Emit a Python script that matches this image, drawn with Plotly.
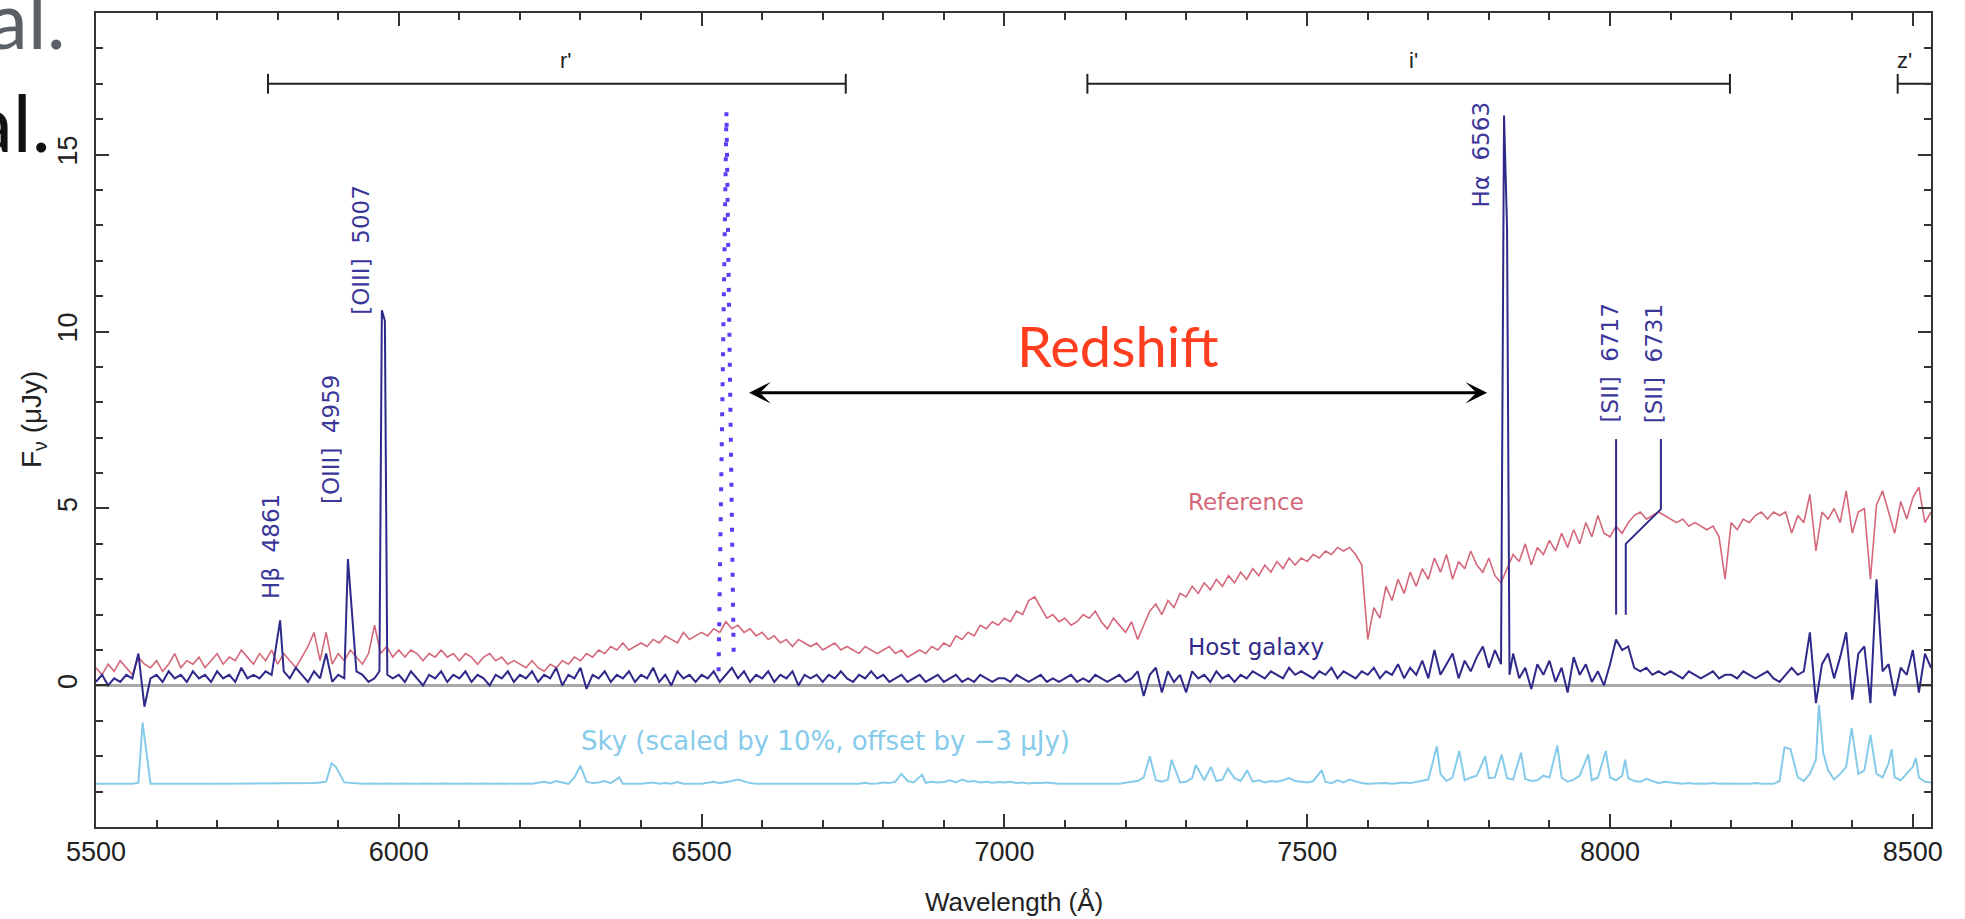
import plotly.graph_objects as go

# ---------------- data ----------------
wave_start, wave_step = 5500, 10

reference_flux = [
    0.5, 0.3, 0.6, 0.4, 0.7, 0.5, 0.3, 0.8, 0.6, 0.5,
    0.7, 0.4, 0.6, 0.9, 0.5, 0.7, 0.6, 0.8, 0.5, 0.7,
    0.9, 0.6, 0.8, 0.7, 1.0, 0.8, 0.6, 0.9, 0.7, 1.0,
    0.6, 0.9, 0.7, 0.5, 0.8, 1.1, 1.5, 0.7, 1.5, 0.6,
    0.9, 0.7, 1.0, 0.8, 0.6, 0.9, 1.7, 0.9, 1.1, 0.8,
    1.0, 0.8, 1.0, 0.9, 0.7, 0.9, 0.8, 1.0, 0.8, 0.9,
    0.7, 0.9, 0.8, 0.6, 0.8, 0.9, 0.7, 0.8, 0.6, 0.7,
    0.6, 0.5, 0.7, 0.5, 0.4, 0.6, 0.5, 0.7, 0.6, 0.8,
    0.7, 0.9, 0.8, 1.0, 0.9, 1.1, 1.0, 1.2, 1.0, 1.1,
    1.2, 1.1, 1.3, 1.2, 1.4, 1.3, 1.2, 1.5, 1.3, 1.4,
    1.5, 1.4, 1.6, 1.5, 1.8, 1.6, 1.7, 1.5, 1.6, 1.4,
    1.5, 1.3, 1.4, 1.2, 1.3, 1.1, 1.3, 1.2, 1.1, 1.2,
    1.0, 1.1, 1.2, 1.0, 1.1, 1.0, 0.9, 1.1, 1.0, 0.9,
    1.0, 1.1, 0.9, 1.0, 0.8, 0.9, 1.0, 0.9, 1.1, 1.0,
    1.2, 1.1, 1.4, 1.3, 1.5, 1.4, 1.7, 1.6, 1.8, 1.7,
    1.9, 1.8, 2.1, 2.0, 2.4, 2.5, 2.2, 1.9, 2.0, 1.8,
    1.9, 1.7, 1.8, 2.0, 1.9, 2.1, 1.8, 1.6, 1.9, 1.7,
    1.5, 1.8, 1.3, 1.7, 2.1, 2.3, 2.0, 2.4, 2.2, 2.6,
    2.5, 2.8, 2.6, 2.9, 2.7, 3.0, 2.8, 3.1, 2.9, 3.2,
    3.0, 3.3, 3.1, 3.4, 3.2, 3.5, 3.3, 3.6, 3.4, 3.6,
    3.5, 3.7, 3.6, 3.8, 3.7, 3.9, 3.8, 3.9, 3.7, 3.4,
    1.3, 2.2, 1.9, 2.8, 2.4, 3.0, 2.6, 3.2, 2.8, 3.3,
    3.0, 3.6, 3.2, 3.7, 3.0, 3.5, 3.3, 3.8, 3.4, 3.2,
    3.6, 3.1, 2.9, 3.3, 3.7, 3.5, 4.0, 3.4, 3.9, 3.7,
    4.1, 3.8, 4.3, 3.9, 4.4, 4.0, 4.6, 4.2, 4.8, 4.3,
    4.2, 4.5, 4.3, 4.6, 4.8, 4.9, 4.7, 4.8, 4.9, 4.8,
    4.7, 4.6, 4.7, 4.5, 4.6, 4.5, 4.4, 4.5, 4.2, 3.0,
    4.6, 4.4, 4.7, 4.6, 4.8, 4.9, 4.7, 4.9, 4.8, 4.9,
    4.3, 4.8, 4.6, 5.4, 3.8, 4.9, 4.7, 5.0, 4.6, 5.5,
    4.3, 4.9, 5.0, 3.0, 5.1, 5.5, 4.9, 4.3, 5.2, 4.7,
    5.3, 5.6, 4.6, 4.9,
]

host_flux = [
    0.1, 0.3, 0.0, 0.2, 0.1, 0.3, 0.2, 0.9, -0.6, 0.2,
    0.3, 0.1, 0.4, 0.2, 0.3, 0.1, 0.4, 0.2, 0.3, 0.1,
    0.4, 0.2, 0.3, 0.1, 0.5, 0.2, 0.3, 0.2, 0.4, 0.3,
    0.3, 0.4, 0.2, 0.5, 0.3, 0.1, 0.4, 0.2, 0.9, 0.1,
    0.3, 0.2, 0.2, 0.4, 0.3, 0.1, 0.2, 0.4, 0.3, 0.2,
    0.3, 0.1, 0.4, 0.2, 0.0, 0.3, 0.2, 0.4, 0.1, 0.3,
    0.2, 0.4, 0.1, 0.3, 0.2, 0.0, 0.3, 0.2, 0.4, 0.1,
    0.3, 0.2, 0.4, 0.1, 0.3, 0.2, 0.5, 0.0, 0.3, 0.2,
    0.5, -0.1, 0.3, 0.2, 0.4, 0.1, 0.3, 0.2, 0.4, 0.1,
    0.3, 0.2, 0.5, 0.1, 0.3, 0.0, 0.4, 0.2, 0.3, 0.1,
    0.3, 0.2, 0.4, 0.1, 0.3, 0.5, 0.2, 0.4, 0.1, 0.3,
    0.2, 0.4, 0.1, 0.3, 0.2, 0.4, 0.0, 0.3, 0.2, 0.3,
    0.1, 0.3, 0.2, 0.4, 0.2, 0.1, 0.3, 0.2, 0.4, 0.2,
    0.3, 0.1, 0.2, 0.3, 0.1, 0.2, 0.3, 0.1, 0.2, 0.3,
    0.1, 0.2, 0.3, 0.1, 0.2, 0.1, 0.3, 0.2, 0.1, 0.2,
    0.2, 0.1, 0.3, 0.2, 0.1, 0.2, 0.3, 0.1, 0.2, 0.1,
    0.2, 0.3, 0.1, 0.2, 0.1, 0.3, 0.2, 0.1, 0.2, 0.3,
    0.1, 0.2, 0.4, -0.3, 0.3, 0.5, -0.2, 0.4, 0.1, 0.3,
    -0.2, 0.4, 0.2, 0.3, 0.1, 0.4, 0.2, 0.3, 0.1, 0.3,
    0.2, 0.4, 0.3, 0.2, 0.4, 0.3, 0.2, 0.5, 0.3, 0.4,
    0.3, 0.2, 0.4, 0.3, 0.5, 0.2, 0.4, 0.3, 0.2, 0.4,
    0.3, 0.5, 0.2, 0.4, 0.3, 0.6, 0.2, 0.5, 0.3, 0.7,
    0.2, 1.0, 0.3, 0.6, 0.9, 0.2, 0.7, 0.4, 0.8, 1.1,
    0.5, 1.0, 0.6, 0.5, 0.9, 0.2, 0.5, -0.1, 0.6, 0.3,
    0.7, 0.1, 0.5, -0.2, 0.8, 0.3, 0.6, 0.1, 0.4, 0.0,
    0.6, 1.3, 1.0, 1.1, 0.5, 0.4, 0.5, 0.3, 0.4, 0.3,
    0.4, 0.3, 0.2, 0.4, 0.3, 0.2, 0.3, 0.4, 0.2, 0.3,
    0.3, 0.2, 0.4, 0.3, 0.2, 0.3, 0.4, 0.2, 0.1, 0.3,
    0.5, 0.3, 0.4, 1.5, -0.5, 0.6, 0.9, 0.2, 0.8, 1.5,
    -0.4, 0.9, 1.1, -0.5, 3.0, 0.4, 0.6, -0.3, 0.5, 0.3,
    1.0, -0.2, 0.9, 0.5,
]

sky_flux = [
    -2.78, -2.77, -2.78, -2.78, -2.77, -2.78, -2.78, -2.75, -2.76, -2.78,
    -2.78, -2.77, -2.78, -2.78, -2.77, -2.78, -2.78, -2.77, -2.78, -2.78,
    -2.78, -2.77, -2.78, -2.78, -2.78, -2.77, -2.78, -2.78, -2.77, -2.78,
    -2.78, -2.78, -2.77, -2.78, -2.78, -2.77, -2.76, -2.74, -2.72, -2.45,
    -2.60, -2.74, -2.76, -2.77, -2.78, -2.77, -2.78, -2.78, -2.77, -2.78,
    -2.78, -2.77, -2.78, -2.78, -2.77, -2.78, -2.78, -2.77, -2.78, -2.78,
    -2.78, -2.77, -2.78, -2.78, -2.77, -2.78, -2.78, -2.77, -2.78, -2.78,
    -2.78, -2.77, -2.78, -2.75, -2.72, -2.76, -2.70, -2.74, -2.78, -2.60,
    -2.50, -2.72, -2.76, -2.74, -2.70, -2.76, -2.75, -2.78, -2.77, -2.78,
    -2.78, -2.77, -2.74, -2.78, -2.76, -2.78, -2.73, -2.78, -2.77, -2.78,
    -2.78, -2.76, -2.72, -2.76, -2.74, -2.70, -2.66, -2.72, -2.76, -2.78,
    -2.78, -2.77, -2.78, -2.78, -2.77, -2.78, -2.76, -2.78, -2.77, -2.78,
    -2.78, -2.77, -2.78, -2.76, -2.78, -2.77, -2.78, -2.75, -2.78, -2.77,
    -2.74, -2.76, -2.72, -2.60, -2.70, -2.74, -2.60, -2.75, -2.72, -2.74,
    -2.73, -2.68, -2.74, -2.66, -2.72, -2.70, -2.74, -2.72, -2.75, -2.73,
    -2.74, -2.72, -2.76, -2.74, -2.77, -2.75, -2.76, -2.74, -2.77, -2.78,
    -2.78, -2.77, -2.78, -2.78, -2.77, -2.78, -2.78, -2.77, -2.78, -2.78,
    -2.74, -2.72, -2.70, -2.60, -2.50, -2.68, -2.72, -2.66, -2.70, -2.74,
    -2.72, -2.62, -2.70, -2.68, -2.60, -2.70, -2.66, -2.72, -2.62, -2.70,
    -2.66, -2.72, -2.68, -2.74, -2.70, -2.72, -2.68, -2.62, -2.70, -2.72,
    -2.74, -2.70, -2.64, -2.72, -2.76, -2.68, -2.74, -2.66, -2.72, -2.76,
    -2.78, -2.77, -2.78, -2.76, -2.78, -2.77, -2.74, -2.76, -2.72, -2.70,
    -2.66, -2.50, -2.50, -2.70, -2.60, -2.40, -2.68, -2.60, -2.55, -2.50,
    -2.62, -2.60, -2.45, -2.62, -2.66, -2.50, -2.64, -2.70, -2.68, -2.55,
    -2.60, -2.40, -2.60, -2.72, -2.66, -2.55, -2.50, -2.68, -2.60, -2.45,
    -2.60, -2.68, -2.55, -2.62, -2.70, -2.72, -2.64, -2.70, -2.76, -2.72,
    -2.74, -2.76, -2.78, -2.76, -2.78, -2.77, -2.78, -2.76, -2.78, -2.77,
    -2.78, -2.77, -2.78, -2.78, -2.76, -2.78, -2.77, -2.78, -2.70, -2.40,
    -2.20, -2.60, -2.70, -2.50, -2.10, -1.60, -2.40, -2.66, -2.50, -2.30,
    -1.80, -2.50, -2.40, -1.90, -2.50, -2.60, -2.20, -2.60, -2.68, -2.50,
    -2.30, -2.60, -2.72, -2.74,
]

# emission-line points of the host spectrum (wavelength, flux)
host_line_wave = [5804, 5916, 5968, 5972, 5977, 5981, 7825, 7830, 7834]
host_line_flux = [1.84, 3.57, 0.4, 10.6, 10.3, 0.3, 16.1, 12.9, 0.3]

# night-sky emission lines (wavelength, scaled flux)
sky_line_wave = [5577, 5889, 5896, 6300, 6364, 6830, 6864, 7240, 7276, 7316, 7341,
                 7369, 7401, 7524, 7714, 7751, 7794, 7821, 7853, 7913, 7964, 7993,
                 8025, 8288, 8298, 8345, 8352, 8399, 8430, 8465, 8505]
sky_line_flux = [-1.05, -2.2, -2.3, -2.27, -2.6, -2.5, -2.52, -2.0, -2.1, -2.25, -2.3,
                 -2.35, -2.4, -2.4, -1.72, -1.85, -2.0, -1.95, -1.9, -1.7, -1.95, -1.85,
                 -2.1, -1.75, -1.8, -0.55, -1.9, -1.2, -1.4, -1.8, -2.05]

# rest-frame H-alpha profile (dotted)
rest_ha_wave = [6528, 6541, 6553]
rest_ha_flux = [0.4, 16.2, 0.8]

# redshift arrow (from, to) at flux level
arrow_wave = [6576, 7797]
arrow_flux = 8.27

# filters
filter_names = ["r'", "i'", "z'"]
filter_lo = [5784, 7137, 8475]
filter_hi = [6738, 8198, 8700]
filter_label_x = [6276, 7676, 8486]
filter_bar_y = 17.0
filter_label_y = 17.65

# line identifications
line_labels = ["H\u03b2  4861", "[OIII]  4959", "[OIII]  5007", "H\u03b1  6563",
               "[SII]  6717", "[SII]  6731"]
line_label_x = [5790, 5889, 5937, 7787, 8000, 8074]
line_label_y = [3.93, 6.95, 12.3, 15.0, 9.1, 9.1]

# leader lines for [SII]
sii_6717_wave = [8010, 8010]
sii_6717_flux = [6.96, 2.0]
sii_6731_wave = [8084, 8084, 8026, 8026]
sii_6731_flux = [6.96, 4.98, 4.0, 2.0]

x_range = [5500, 8530]
y_range = [-4, 19]

# ---------------- helpers ----------------
def merge(grid_vals, extra_w, extra_f, gap=5):
    grid_w = [wave_start + wave_step * i for i in range(len(grid_vals))]
    pts = [(w, f) for w, f in zip(grid_w, grid_vals)
           if all(abs(w - e) >= gap for e in extra_w)]
    pts += list(zip(extra_w, extra_f))
    pts.sort()
    return [p[0] for p in pts], [p[1] for p in pts]

ref_w = [wave_start + wave_step * i for i in range(len(reference_flux))]
host_w, host_f = merge(host_flux, host_line_wave, host_line_flux)
sky_w, sky_f = merge(sky_flux, sky_line_wave, sky_line_flux)

HOST = "#2f2a8a"
LABEL = "#3b3699"
REF = "#d4687a"
SKY = "#86cbea"
DOT = "#5a3cf5"
AXC = "#333333"

fig = go.Figure()
fig.add_trace(go.Scatter(x=sky_w, y=sky_f, mode="lines", line=dict(color=SKY, width=2)))
fig.add_trace(go.Scatter(x=ref_w, y=reference_flux, mode="lines", line=dict(color=REF, width=1.6)))
fig.add_trace(go.Scatter(x=host_w, y=host_f, mode="lines", line=dict(color=HOST, width=2)))
fig.add_trace(go.Scatter(x=rest_ha_wave, y=rest_ha_flux, mode="lines",
                         line=dict(color=DOT, width=4, dash="4px,11px")))
fig.add_trace(go.Scatter(x=sii_6717_wave, y=sii_6717_flux, mode="lines", line=dict(color=HOST, width=2)))
fig.add_trace(go.Scatter(x=sii_6731_wave, y=sii_6731_flux, mode="lines", line=dict(color=HOST, width=2)))

# filter bars with end caps
for lo, hi in zip(filter_lo, filter_hi):
    fig.add_trace(go.Scatter(x=[lo, hi], y=[filter_bar_y, filter_bar_y], mode="lines",
                             line=dict(color="#222222", width=2)))
    for e in (lo, hi):
        fig.add_trace(go.Scatter(x=[e, e], y=[filter_bar_y - 0.28, filter_bar_y + 0.28],
                                 mode="lines", line=dict(color="#222222", width=2)))

annotations = []
for name, lx in zip(filter_names, filter_label_x):
    annotations.append(dict(x=lx, y=filter_label_y, xref="x", yref="y", text=name,
                            showarrow=False, font=dict(family="Liberation Sans", size=22, color="#222222")))
for t, lx, ly in zip(line_labels, line_label_x, line_label_y):
    annotations.append(dict(x=lx, y=ly, xref="x", yref="y", text=t, textangle=-90,
                            showarrow=False, font=dict(family="DejaVu Sans", size=23, color=LABEL)))

annotations += [
    dict(x=7399, y=5.18, xref="x", yref="y", text="Reference", showarrow=False,
         font=dict(family="DejaVu Sans", size=23, color=REF)),
    dict(x=7416, y=1.08, xref="x", yref="y", text="Host galaxy", showarrow=False,
         font=dict(family="DejaVu Sans", size=23, color=HOST)),
    dict(x=6705, y=-1.58, xref="x", yref="y", text="Sky (scaled by 10%, offset by \u22123 \u03bcJy)",
         showarrow=False, font=dict(family="DejaVu Sans", size=26, color=SKY)),
    dict(x=7186, y=9.6, xref="x", yref="y", text="Redshift", showarrow=False,
         font=dict(family="Lato", size=56, color="#ff3d1f")),
    dict(x=arrow_wave[1], y=arrow_flux, ax=arrow_wave[0], ay=arrow_flux, xref="x", yref="y",
         axref="x", ayref="y", text="", showarrow=True, arrowhead=3, startarrowhead=3,
         arrowside="end+start", arrowsize=1.2, startarrowsize=1.2, arrowwidth=3, arrowcolor="#000000"),
    dict(x=0.5, y=-0.0925, xref="paper", yref="paper", text="Wavelength (\u00c5)", showarrow=False,
         xanchor="center", yanchor="middle",
         font=dict(family="Liberation Sans", size=26, color="#222222")),
    dict(x=-0.0343, y=0.5, xref="paper", yref="paper", text="F<sub>\u03bd</sub> (\u03bcJy)",
         xanchor="center", yanchor="middle",
         textangle=-90, showarrow=False, font=dict(family="Liberation Sans", size=28, color="#222222")),
    dict(x=-0.0153, y=0.9933, xref="paper", yref="paper", text="al.", xanchor="right", yanchor="middle",
         showarrow=False, font=dict(family="Lato", size=80, color="#5b5f66")),
    dict(x=-0.0234, y=0.8668, xref="paper", yref="paper", text="al.", xanchor="right", yanchor="middle",
         showarrow=False, font=dict(family="Lato", size=80, color="#111111")),
]

axis_common = dict(showline=True, linecolor=AXC, linewidth=2, mirror="ticks", ticks="inside",
                   ticklen=13, tickwidth=1.5, tickcolor=AXC, showgrid=False,
                   tickfont=dict(family="Liberation Sans", size=27, color="#222222"))

fig.update_layout(
    width=1965, height=919,
    margin=dict(l=96, r=34, t=13, b=92),
    paper_bgcolor="white", plot_bgcolor="white",
    showlegend=False,
    annotations=annotations,
    xaxis=dict(range=x_range, tick0=5500, dtick=500, ticklabelstandoff=0,
               minor=dict(dtick=100, ticks="inside", ticklen=7, tickwidth=1.5, tickcolor=AXC),
               zeroline=False, **axis_common),
    yaxis=dict(range=y_range, tick0=0, dtick=5, tickangle=-90, ticklabelstandoff=6,
               minor=dict(dtick=1, ticks="inside", ticklen=7, tickwidth=1.5, tickcolor=AXC),
               zeroline=True, zerolinecolor="#a9a9a9", zerolinewidth=3, **axis_common),
)

fig.write_html("out.html")
